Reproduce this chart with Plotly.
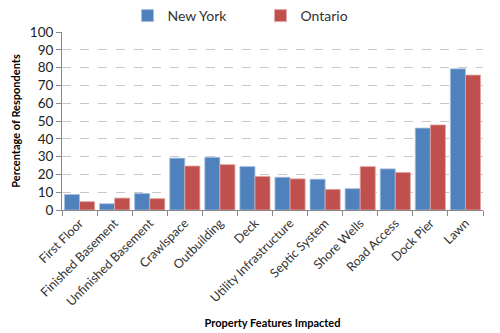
import plotly.graph_objects as go

categories = ["First Floor", "Finished Basement", "Unfinished Basement", "Crawlspace",
              "Outbuilding", "Deck", "Utility Infrastructure", "Septic System",
              "Shore Wells", "Road Access", "Dock Pier", "Lawn"]
new_york = [8.7, 3.5, 9.3, 29.1, 29.6, 24.4, 18.4, 17.3, 12.0, 23.1, 46.0, 79.3]
ontario = [4.7, 6.7, 6.4, 24.7, 25.5, 18.9, 17.5, 11.6, 24.4, 21.1, 47.8, 75.8]

font_family = "Lato, Carlito, 'Liberation Sans', sans-serif"

fig = go.Figure()
fig.add_trace(go.Bar(name="New York", x=categories, y=new_york,
                     marker=dict(color="#4F81BD", line=dict(color="#A7C0DE", width=0.8))))
fig.add_trace(go.Bar(name="Ontario", x=categories, y=ontario,
                     marker=dict(color="#C0504D", line=dict(color="#E0A8A6", width=0.8))))

fig.update_layout(
    width=500, height=333,
    margin=dict(l=62, r=17, t=27, b=123),
    paper_bgcolor="white", plot_bgcolor="white",
    barmode="group", bargap=0.14, bargroupgap=0,
    font=dict(family=font_family, color="#222222"),
    legend=dict(orientation="h", xref="container", yref="container",
                x=0.255, y=1.0, xanchor="left", yanchor="top",
                font=dict(size=14, color="#333333"), entrywidth=88,
                itemwidth=30, traceorder="normal"),
    xaxis=dict(
        title=dict(text="<b>Property Features Impacted</b>", font=dict(size=11, color="#000000"), standoff=11),
        tickangle=-45, tickfont=dict(size=12.5, color="#333333"),
        showline=True, linecolor="#888888", linewidth=1,
        ticks="outside", ticklen=5, tickcolor="#888888", tickson="boundaries",
        showgrid=False, automargin=False,
    ),
    yaxis=dict(
        title=dict(text="<b>Percentage of Respondents</b>", font=dict(size=11, color="#000000"), standoff=6),
        range=[0, 100], dtick=10, tickfont=dict(size=13.5, color="#222222"),
        showline=True, linecolor="#888888", linewidth=1,
        ticks="outside", ticklen=5, tickcolor="#888888",
        showgrid=True, gridcolor="#C8C8C8", griddash="dash", gridwidth=1,
        zeroline=False, automargin=False,
    ),
)

fig.write_html("out.html")
